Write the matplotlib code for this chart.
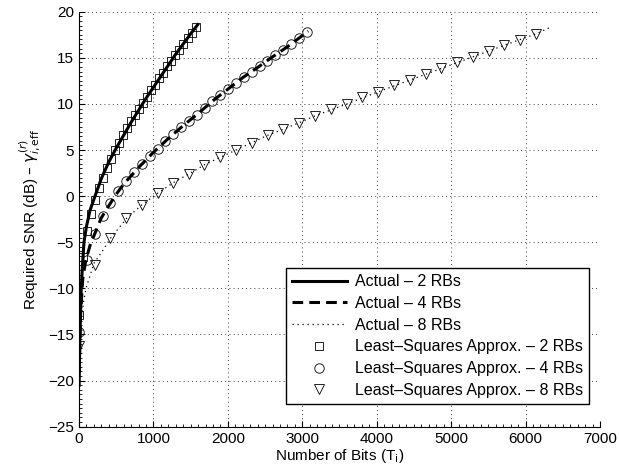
#! /usr/bin/env python3

import numpy as np
import matplotlib
matplotlib.use('Agg')
import matplotlib.pyplot as plt
from matplotlib.ticker import MultipleLocator

plt.rcParams['font.family'] = ['Liberation Sans', 'DejaVu Sans']
plt.rcParams['mathtext.fontset'] = 'dejavusans'

# "actual" curves
act2_x = [2, 8, 18, 30, 45, 67, 100, 150, 215, 300, 400, 500, 600, 700, 800,
          900, 1000, 1100, 1200, 1300, 1400, 1500, 1595]
act2_y = [-20.5, -17.0, -13.5, -10.0, -7.8, -5.0, -3.3, -1.5, 0.0, 1.9, 3.7,
          5.2, 6.6, 8.0, 9.3, 10.6, 11.8, 13.0, 14.2, 15.4, 16.5, 17.6, 18.6]

act4_x = [3, 20, 50, 90, 150, 211, 300, 400, 500, 600, 800, 1000, 1200, 1400,
          1600, 1800, 2000, 2200, 2400, 2600, 2800, 3000, 3080]
act4_y = [-19.0, -13.0, -9.0, -7.0, -5.3, -4.1, -2.35, -1.05, 0.2, 1.3, 3.1,
          4.75, 6.25, 7.65, 8.95, 10.35, 11.6, 12.85, 13.95, 15.1, 16.2, 17.4,
          17.9]

act8_x = [2, 20, 60, 94, 200, 327, 420, 641, 850, 1055, 1265, 1475, 1685,
          1895, 2110, 2320, 2535, 2745, 2955, 3170, 3600, 4015, 4450, 4870,
          5290, 5710, 6140, 6330]
act8_y = [-18.5, -14.5, -11.5, -10.0, -7.3, -5.8, -4.6, -2.4, -0.9, 0.3, 1.45,
          2.4, 3.4, 4.2, 5.0, 5.8, 6.6, 7.25, 7.95, 8.7, 10.0, 11.3, 12.6,
          13.85, 15.1, 16.35, 17.6, 18.3]

# least-squares approximation markers
ls2_x = [1, 55, 108, 162, 216, 270, 324, 378, 432, 486, 540, 594, 648, 702,
         756, 810, 864, 918, 972, 1026, 1080, 1134, 1188, 1242, 1296, 1350,
         1404, 1458, 1512, 1566]
ls2_y = [-12.9, -6.6, -3.8, -1.9, -0.4, 0.9, 2.0, 3.0, 4.0, 5.0, 5.8, 6.6,
         7.4, 8.1, 8.8, 9.5, 10.1, 10.8, 11.5, 12.1, 12.8, 13.4, 14.1, 14.7,
         15.3, 15.9, 16.5, 17.1, 17.7, 18.3]

ls4_x = [2, 105, 211, 316, 422, 527, 633, 738, 844, 949, 1055, 1160, 1266,
         1371, 1477, 1582, 1688, 1793, 1899, 2004, 2110, 2215, 2321, 2426,
         2532, 2637, 2743, 2848, 2954, 3060]
ls4_y = [-14.75, -6.9, -4.1, -2.1, -0.75, 0.55, 1.6, 2.6, 3.5, 4.35, 5.15,
         5.95, 6.7, 7.45, 8.15, 8.85, 9.6, 10.3, 11.0, 11.65, 12.3, 12.95,
         13.5, 14.1, 14.7, 15.3, 15.85, 16.5, 17.1, 17.75]

ls8_x = [4, 215, 420, 635, 845, 1055, 1265, 1475, 1685, 1895, 2110, 2320,
         2535, 2745, 2955, 3170, 3383, 3598, 3808, 4015, 4234, 4449, 4660,
         4870, 5077, 5292, 5502, 5712, 5927, 6142]
ls8_y = [-16.3, -7.5, -4.5, -2.4, -1.0, 0.3, 1.45, 2.4, 3.4, 4.2, 5.0, 5.8,
         6.6, 7.25, 7.95, 8.7, 9.4, 10.0, 10.7, 11.3, 12.0, 12.6, 13.2, 13.85,
         14.5, 15.1, 15.7, 16.35, 16.95, 17.6]

fig = plt.figure(figsize=(6.19, 4.76), dpi=100)
ax = fig.add_axes([0.1276, 0.1036, 0.8417, 0.8718])

ax.plot(act2_x, act2_y, 'k-', lw=2.2, label='Actual – 2 RBs')
ax.plot(act4_x, act4_y, 'k--', lw=2.2, dashes=(3.5, 2), label='Actual – 4 RBs')
ax.plot(act8_x, act8_y, 'k', ls=(0, (1, 3)), lw=0.9, label='Actual – 8 RBs')
ax.plot(ls2_x, ls2_y, 's', ms=5.5, mfc='none', mec='k', mew=0.6,
        label='Least–Squares Approx. – 2 RBs')
ax.plot(ls4_x, ls4_y, 'o', ms=6.8, mfc='none', mec='k', mew=0.6,
        label='Least–Squares Approx. – 4 RBs')
ax.plot(ls8_x, ls8_y, 'v', ms=7.5, mfc='none', mec='k', mew=0.6,
        label='Least–Squares Approx. – 8 RBs')

ax.set_xlim(0, 7000)
ax.set_ylim(-25, 20)
ax.xaxis.set_major_locator(MultipleLocator(1000))
ax.yaxis.set_major_locator(MultipleLocator(5))
ax.xaxis.set_minor_locator(MultipleLocator(100))
ax.yaxis.set_minor_locator(MultipleLocator(0.5))
ax.tick_params(which='both', direction='in', labelsize=11, color='k')
ax.tick_params(which='major', length=4)
ax.tick_params(which='minor', length=2)
ax.grid(True, which='major', linestyle=(0, (1, 4)), color='k', lw=0.6)
ax.spines['top'].set_visible(False)
ax.spines['right'].set_visible(False)

ax.set_xlabel('Number of Bits (T$_{\\rm i}$)', fontsize=11, labelpad=1)
ax.set_ylabel('Required SNR (dB) – $\\gamma^{(r)}_{i,\\mathrm{eff}}$',
              fontsize=11, labelpad=4)

leg = ax.legend(loc='lower right', bbox_to_anchor=(0.979, 0.054),
                fontsize=11.5, handlelength=3.4, handletextpad=0.5,
                fancybox=False, framealpha=1, borderpad=0.4,
                labelspacing=0.42, borderaxespad=0)
leg.get_frame().set_edgecolor('k')
leg.get_frame().set_linewidth(1.0)

plt.savefig('out.png', dpi=100)
